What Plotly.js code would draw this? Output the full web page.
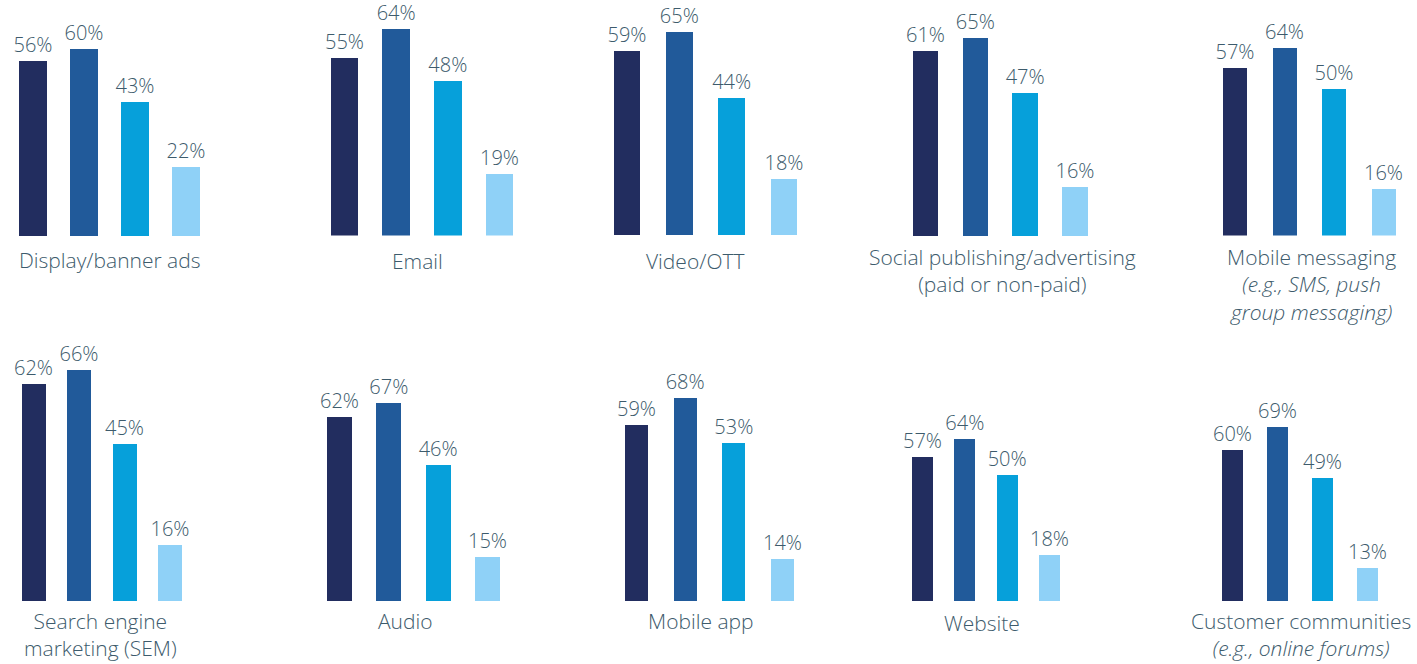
<!DOCTYPE html>
<html><head><meta charset="utf-8">
<script src="https://cdn.plot.ly/plotly-3.0.1.min.js"></script>
<style>html,body{margin:0;padding:0;background:#fff;}#chart{width:1417px;height:664px;}</style>
</head><body><div id="chart"></div>
<script>
// ---- data ----
const categories = [
  "Display/banner ads",
  "Email",
  "Video/OTT",
  "Social publishing/advertising<br>(paid or non-paid)",
  "Mobile messaging<br><i>(e.g., SMS, push</i><br><i>group messaging)</i>",
  "Search engine<br>marketing (SEM)",
  "Audio",
  "Mobile app",
  "Website",
  "Customer communities<br><i>(e.g., online forums)</i>"
];
const seriesNames = ["Series 1", "Series 2", "Series 3", "Series 4"];
const series1 = [56, 55, 59, 61, 57, 62, 62, 59, 57, 60];
const series2 = [60, 64, 65, 65, 64, 66, 67, 68, 64, 69];
const series3 = [43, 48, 44, 47, 50, 45, 46, 53, 50, 49];
const series4 = [22, 19, 18, 16, 16, 16, 15, 14, 18, 13];

// ---- styles / positions (pixels) ----
const barColors = ["#222d5f", "#215a9a", "#06a0da", "#8fd1f7"];
const textColor = "#3d5b6c";
const FONT = "Open Sans, Lato, sans-serif";
const W = 1417, H = 664, YMAX = 72;
const panels = [
  {c0: 33,     c3: 186,    bw: 28,   base: 236,   ppu: 3.12, lx: 110,  ly: 251},
  {c0: 344.5,  c3: 499.5,  bw: 27.5, base: 235.5, ppu: 3.22, lx: 417,  ly: 252},
  {c0: 627,    c3: 784,    bw: 26.5, base: 235,   ppu: 3.12, lx: 695,  ly: 252},
  {c0: 925.5,  c3: 1075,   bw: 25.5, base: 236,   ppu: 3.04, lx: 1002, ly: 248},
  {c0: 1235,   c3: 1383.5, bw: 24,   base: 235.5, ppu: 2.93, lx: 1311, ly: 248},
  {c0: 33.5,   c3: 170,    bw: 24,   base: 601,   ppu: 3.5,  lx: 100,  ly: 612},
  {c0: 339.5,  c3: 487.5,  bw: 25,   base: 601,   ppu: 2.96, lx: 405,  ly: 612},
  {c0: 636.5,  c3: 782.5,  bw: 23,   base: 601,   ppu: 2.98, lx: 701,  ly: 612},
  {c0: 922.5,  c3: 1049.5, bw: 21,   base: 601,   ppu: 2.53, lx: 982,  ly: 614},
  {c0: 1232.5, c3: 1367.5, bw: 21,   base: 601,   ppu: 2.52, lx: 1301, ly: 612}
];

const traces = [];
const layout = {
  width: W, height: H,
  margin: {l: 0, r: 0, t: 0, b: 0},
  paper_bgcolor: "#ffffff", plot_bgcolor: "rgba(0,0,0,0)",
  showlegend: false,
  bargap: 0,
  annotations: []
};

categories.forEach((cat, i) => {
  const p = panels[i];
  const n = i + 1;
  const s = (p.c3 - p.c0) / 3;
  const xa = n === 1 ? "x" : "x" + n;
  const ya = n === 1 ? "y" : "y" + n;
  const vals = [series1[i], series2[i], series3[i], series4[i]];
  traces.push({
    type: "bar",
    x: seriesNames,
    y: vals,
    width: seriesNames.map(() => p.bw / s),
    marker: {color: barColors, line: {width: 0}},
    texttemplate: "%{y}%",
    textposition: "outside",
    constraintext: "none",
    cliponaxis: false,
    textfont: {family: FONT, size: 20, color: textColor, weight: 300},
    hoverinfo: "skip",
    xaxis: xa, yaxis: ya
  });
  const axKeyX = n === 1 ? "xaxis" : "xaxis" + n;
  const axKeyY = n === 1 ? "yaxis" : "yaxis" + n;
  layout[axKeyX] = {
    domain: [(p.c0 - s / 2) / W, (p.c3 + s / 2) / W],
    range: [-0.5, 3.5], type: "category",
    showgrid: false, zeroline: false, showline: false, showticklabels: false, ticks: "",
    anchor: ya, fixedrange: true
  };
  layout[axKeyY] = {
    domain: [(H - p.base) / H, (H - (p.base - YMAX * p.ppu)) / H],
    range: [0, YMAX],
    showgrid: false, zeroline: false, showline: false, showticklabels: false, ticks: "",
    anchor: xa, fixedrange: true
  };
  layout.annotations.push({
    xref: "paper", yref: "paper",
    x: p.lx / W, y: 1 - (p.ly - 7) / H,
    xanchor: "center", yanchor: "top", align: "center",
    text: cat, showarrow: false,
    font: {family: FONT, size: 21, color: textColor, weight: 300}
  });
});

Plotly.newPlot("chart", traces, layout, {displayModeBar: false, staticPlot: true});
</script>
</body></html>
